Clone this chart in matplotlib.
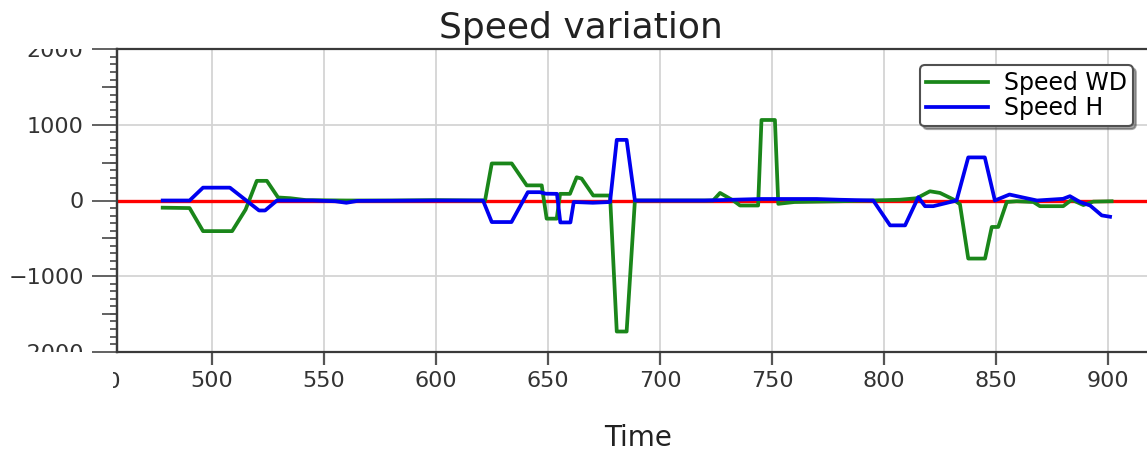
import matplotlib
matplotlib.use("Agg")
import matplotlib.pyplot as plt
from matplotlib.transforms import Bbox, TransformedBbox, blended_transform_factory

# Speed variation data (vertices)
time_wd = [478, 490, 496, 509, 515, 520, 524.5, 529.5, 535, 542, 560, 580, 600, 618,
           621.9, 624.9, 633.8, 640.5, 647.2, 649.4, 653.9, 655.4, 659.8, 662.8, 665,
           670.2, 677.7, 680.7, 685.1, 688.8, 700, 715, 723.7, 726.8, 732.7, 735.7,
           743.8, 745.3, 751.3, 752.8, 760, 780, 793.8, 807, 814.6, 820.5, 825,
           830.9, 833.9, 837.6, 845.1, 848.1, 851, 854.8, 859.2, 866.7, 869.6, 880,
           883.8, 889, 893.4, 901.6]
speed_wd = [-95, -100, -405, -405, -120, 260, 260, 40, 30, 5, 0, 0, 5, 0,
            0, 490, 490, 200, 200, -240, -240, 88, 88, 307, 290,
            66, 66, -1733, -1733, 0, 0, 0, 0, 100, 0, -66,
            -66, 1065, 1065, -44, -20, -10, 0, 10, 30, 122, 100,
            15, -50, -768, -768, -350, -350, -20, -10, -20, -75, -75,
            10, -60, -15, -10]

time_h = [478, 490, 496, 508, 521, 523.7, 529, 545, 555, 560, 565, 600, 621,
          624.9, 633.7, 641, 646.4, 649, 654, 655.5, 660, 661.5, 670, 677.7,
          680.7, 685.1, 688.8, 720, 745, 770, 780, 795.2, 802.7, 809.4, 815.3,
          818.3, 822, 832.4, 837.6, 845, 849.5, 856, 862, 868.3, 879.9, 883,
          887.5, 892, 897.2, 900.9]
speed_h = [0, 0, 170, 170, -132, -132, 0, 0, -10, -30, -5, 0, 0,
           -285, -285, 110, 110, 90, 88, -290, -290, -20, -30, -20,
           802, 802, 0, 0, 20, 20, 10, 0, -329, -329, 44,
           -75, -75, 0, 570, 570, 0, 79, 40, 0, 22, 57,
           -20, -66, -197, -215]

zero_level = 0
x_ticks = [500, 550, 600, 650, 700, 750, 800, 850, 900]
y_ticks = [-2000, -1000, 0, 1000, 2000]
y_mid_ticks = [-1500, -500, 500, 1500]

W, H = 1147, 450
fig = plt.figure(figsize=(W / 100, H / 100), dpi=100)
ax = fig.add_axes([117 / W, 1 - 351.7 / H, 1 - 117 / W, (351.7 - 49.3) / H])

ax.axhline(zero_level, color="#ff0000", lw=2.4, zorder=2)
ax.plot(time_wd, speed_wd, color="#1a861a", lw=2.7, label="Speed WD", zorder=3)
ax.plot(time_h, speed_h, color="#0000f0", lw=2.7, label="Speed H", zorder=4)

ax.set_xlim(457.6, 917.4)
ax.set_ylim(-2000, 2000)
ax.set_xticks(x_ticks)
ax.set_yticks(y_ticks)
ax.set_yticks(range(-2000, 2001, 100), minor=True)
ax.grid(True, color="#d4d4d4", lw=1.3, zorder=0)

dark = "#3a3a3a"
for s in ["left", "bottom", "top"]:
    ax.spines[s].set_color(dark)
    ax.spines[s].set_linewidth(1.6)
ax.spines["right"].set_visible(False)

ax.tick_params(axis="x", which="major", length=9, width=1.6, color="#555555",
               labelsize=16, labelcolor="#333333", pad=5)
ax.tick_params(axis="y", which="major", length=18, width=1.3, color="#555555",
               labelsize=16, labelcolor="#333333", pad=6)
ax.tick_params(axis="y", which="minor", length=5, width=1.3, color="#555555")
ax.tick_params(axis="x", which="minor", bottom=False)

# medium ticks every 500
sec = ax.secondary_yaxis("left")
sec.set_yticks(y_mid_ticks)
sec.tick_params(axis="y", which="major", length=11, width=1.3, color="#555555",
                labelleft=False)
sec.minorticks_off()
sec.spines["left"].set_color(dark)
sec.spines["left"].set_linewidth(1.6)

# tick labels cut off at the plot edges, as in the original screenshot
clip_y = TransformedBbox(Bbox([[0, 1 - 351.7 / H], [1, 1 - 49.3 / H]]), fig.transFigure)
for t in ax.yaxis.get_major_ticks():
    t.label1.set_clip_on(True)
    t.label1.set_clip_box(clip_y)

trans = blended_transform_factory(ax.transData, ax.transAxes)
first = ax.text(450, -0.066, "450", transform=trans, ha="center", va="top",
                fontsize=16, color="#333333", clip_on=True)
first.set_clip_box(TransformedBbox(Bbox([[113 / W, 0], [1, 1]]), fig.transFigure))

fig.text(581 / W, 1 - 38 / H, "Speed variation", ha="center", va="baseline",
         fontsize=26, color="#222222")
fig.text(638 / W, 1 - 438 / H, "Time", ha="center", va="center",
         fontsize=20, color="#222222")

leg = ax.legend(loc="upper right", bbox_to_anchor=(1 - 14 / (W - 117), 1 - 16 / 302.4),
                borderaxespad=0, fontsize=17, frameon=True, fancybox=True, shadow=True,
                handlelength=2.6, handletextpad=0.7, labelspacing=0.05, borderpad=0.25)
leg.get_frame().set_edgecolor("#505050")
leg.get_frame().set_linewidth(1.5)
leg.get_frame().set_alpha(1)

fig.savefig("out.png", dpi=100)
